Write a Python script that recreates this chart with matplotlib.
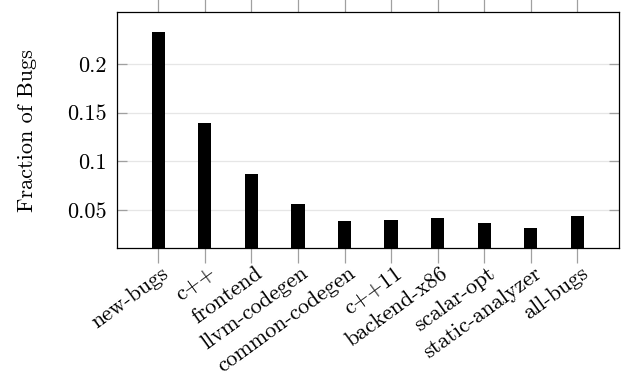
import matplotlib
matplotlib.use("Agg")
import matplotlib.pyplot as plt
import matplotlib.transforms as mtransforms

plt.rcParams["font.family"] = ["cmr10", "DejaVu Serif"]
plt.rcParams["axes.formatter.use_mathtext"] = True

components = ["new-bugs", "c++", "frontend", "llvm-codegen", "common-codegen",
              "c++11", "backend-x86", "scalar-opt", "static-analyzer", "all-bugs"]
fractions = [0.233, 0.139, 0.087, 0.056, 0.039, 0.040, 0.042, 0.037, 0.0315, 0.0435]
yticks = [0.05, 0.1, 0.15, 0.2]
ytick_labels = ["0.05", "0.1", "0.15", "0.2"]

fig = plt.figure(figsize=(6.38, 3.75), dpi=100)
ax = fig.add_axes([0.183, 0.339, 0.787, 0.628])

x = range(len(components))
ax.bar(x, fractions, width=0.286, color="black", zorder=3)

ax.set_xlim(-0.89, len(components) - 0.11)
ax.set_ylim(0.011, 0.253)

ax.set_yticks(yticks)
ax.set_yticklabels(ytick_labels, fontsize=16)
ax.grid(axis="y", color="#e6e6e6", linewidth=0.9, zorder=0)
ax.tick_params(axis="y", direction="in", left=True, right=True, length=7,
               color="#a0a0a0", width=0.9, pad=7)

ax.set_xticks(list(x))
ax.set_xticklabels(components, rotation=36, ha="right", rotation_mode="anchor",
                   fontsize=16)
ax.tick_params(axis="x", direction="out", bottom=True, top=True, length=11,
               color="#a0a0a0", width=0.9, pad=0)

# nudge rotated labels a little to the right
shift = mtransforms.ScaledTranslation(2 / 72, 0, fig.dpi_scale_trans)
for lbl in ax.get_xticklabels():
    lbl.set_transform(lbl.get_transform() + shift)

for s in ax.spines.values():
    s.set_linewidth(0.9)
    s.set_zorder(4)

ax.set_ylabel("Fraction of Bugs", fontsize=16, labelpad=22)

fig.savefig("out.png", dpi=100)
